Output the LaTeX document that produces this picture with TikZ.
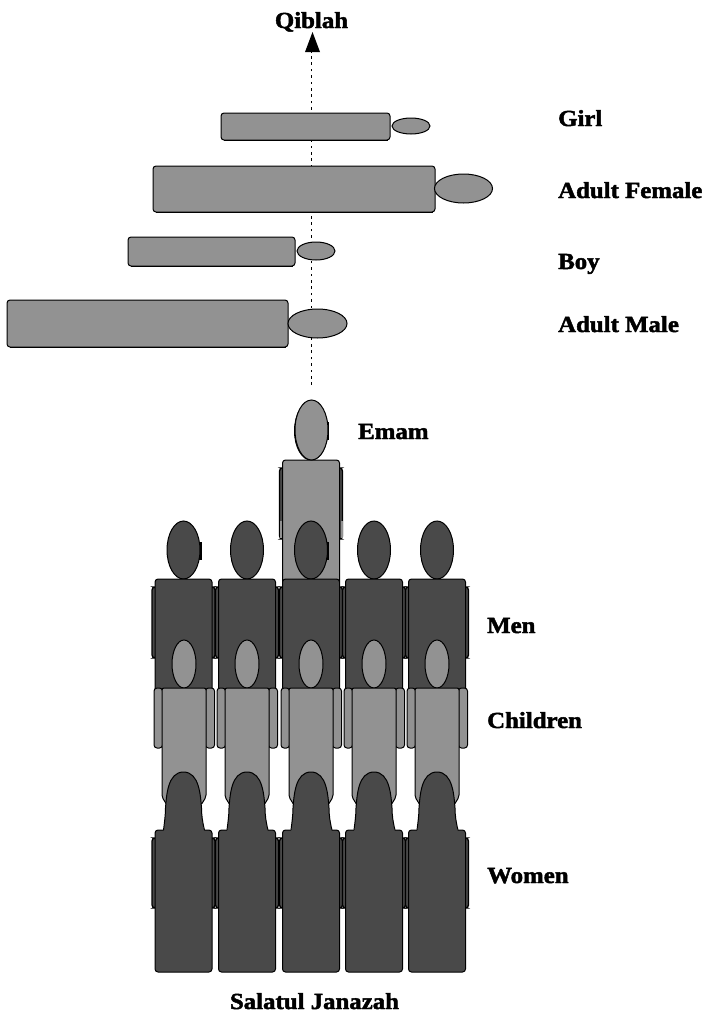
\documentclass[tikz,border=0pt]{standalone}
\usepackage{fontspec}
\setmainfont[FakeBold=2,FakeStretch=1.08]{Liberation Serif Bold}
\usetikzlibrary{shapes.geometric}
\definecolor{lightg}{RGB}{146,146,146}
\definecolor{darkg}{RGB}{73,73,73}
\tikzset{
  part/.style={draw=black,line width=1pt,rounded corners=3pt},
  headshape/.style={draw=black,line width=1pt},
  lbl/.style={anchor=base west,inner sep=0pt,font=\fontsize{23}{26}\selectfont},
  pics/adult/.style n args={2}{code={
    \draw[headshape,fill=#1] (0,-29) ellipse (16.5 and 29);
    \draw[part,line width=1.3pt,fill=darkg] (-31.5,8) rectangle (-27,79);
    \draw[part,line width=1.3pt,fill=darkg] (27,8) rectangle (31.5,79);
    \draw[part,fill=#1] (-28.5,0) rectangle (28.5,#2);
  }},
  pics/child/.style={code={
    \draw[headshape,fill=lightg] (0,-24) ellipse (12 and 24);
    \draw[part,fill=lightg] (-30,0) rectangle (-21.5,60);
    \draw[part,fill=lightg] (21.5,0) rectangle (30.5,60);
    \draw[part,fill=lightg,rounded corners=2pt] (-22,0) -- (22,0) -- (22,109) -- (17,117) -- (-17,117) -- (-22,109) -- cycle;
  }},
  pics/woman/.style={code={
    \draw[part,line width=1.3pt,fill=darkg] (-31.5,8) rectangle (-27,78);
    \draw[part,line width=1.3pt,fill=darkg] (27,8) rectangle (31.5,78);
    \draw[part,fill=darkg] (-28.5,0) rectangle (28.5,142);
    \fill[darkg] (-20,2) .. controls (-19,-8) and (-18,-15) .. (-18,-22) .. controls (-17,-34) and (-16,-58) .. (0,-58) .. controls (16,-58) and (17,-34) .. (18,-22) .. controls (18,-15) and (19,-8) .. (21,2) -- cycle;
    \draw[headshape] (-20,0) .. controls (-19,-8) and (-18,-15) .. (-18,-22) .. controls (-17,-34) and (-16,-58) .. (0,-58) .. controls (16,-58) and (17,-34) .. (18,-22) .. controls (18,-15) and (19,-8) .. (21,0);
  }},
  pbody/.style={draw=black,line width=1pt,fill=lightg,rounded corners=3pt,inner sep=0pt,minimum width=#1},
  phead/.style={draw=black,line width=1pt,fill=lightg,ellipse,inner sep=0pt,minimum width=#1},
}
\begin{document}
\begin{tikzpicture}[x=1pt,y=-1pt]
\useasboundingbox (0,0) rectangle (705,1017);
\coordinate (lineend) at (311.5,385);
\coordinate (tipbase) at (311.5,52);
\node[lbl,anchor=base] (qiblah) at (311.5,28) {Qiblah};
\draw[line width=1.7pt,dash pattern=on 2.6pt off 3.8pt] (lineend) -- (tipbase);
\fill[black] (305,52) -- (312.5,32) -- (320,52) -- cycle;
% prone figures
\node[pbody=169pt,minimum height=27pt] (girlb) at (305.5,126.5) {};
\node[phead=38pt,minimum height=16pt] (girlh) at (411,126) {};
\node[pbody=282pt,minimum height=46pt] (femb) at (294,189) {};
\node[phead=58pt,minimum height=29pt] (femh) at (463.5,188.5) {};
\node[pbody=167pt,minimum height=29pt] (boyb) at (211.5,251.5) {};
\node[phead=38pt,minimum height=18pt] (boyh) at (316,251) {};
\node[pbody=281pt,minimum height=47pt] (malb) at (147.5,323.5) {};
\node[phead=59pt,minimum height=29pt] (malh) at (317.5,323.5) {};
\foreach \n in {girlb,femb,boyb,malb}
  \draw[line width=1.6pt,shorten >=3pt,shorten <=3pt] (\n.south west) -- (\n.south east);
% Emam
\fill[black] (325,422) rectangle (329,440);
\draw pic at (311,460) {adult={lightg}{125}};
\draw[headshape,fill=lightg] (311.5,430) ellipse (16.5 and 30);
\fill[lightg] (279.5,521) rectangle (281.5,538);
\fill[lightg] (340.5,521) rectangle (342.5,538);
% rows
\fill[black] (197,542) rectangle (202,560);
\fill[black] (324,542) rectangle (329,560);
\foreach \c in {183.5,247,311,374,437} \draw pic at (\c,579) {adult={darkg}{112}};
\foreach \c in {184,247,311,374,437} \draw pic at (\c,688) {child};
\foreach \c in {183.5,247,311,374,437} \draw pic at (\c,830) {woman};
% labels
\node[lbl] (girl) at (558,126) {Girl};
\node[lbl] (female) at (558,198) {Adult Female};
\node[lbl] (boy) at (558,269) {Boy};
\node[lbl] (male) at (558,332) {Adult Male};
\node[lbl] (emam) at (358,439) {Emam};
\node[lbl] (men) at (487,633) {Men};
\node[lbl] (children) at (487,728) {Children};
\node[lbl] (women) at (487,883) {Women};
\node[lbl,anchor=base] (title) at (314.5,1009) {Salatul Janazah};
\end{tikzpicture}
\end{document}
